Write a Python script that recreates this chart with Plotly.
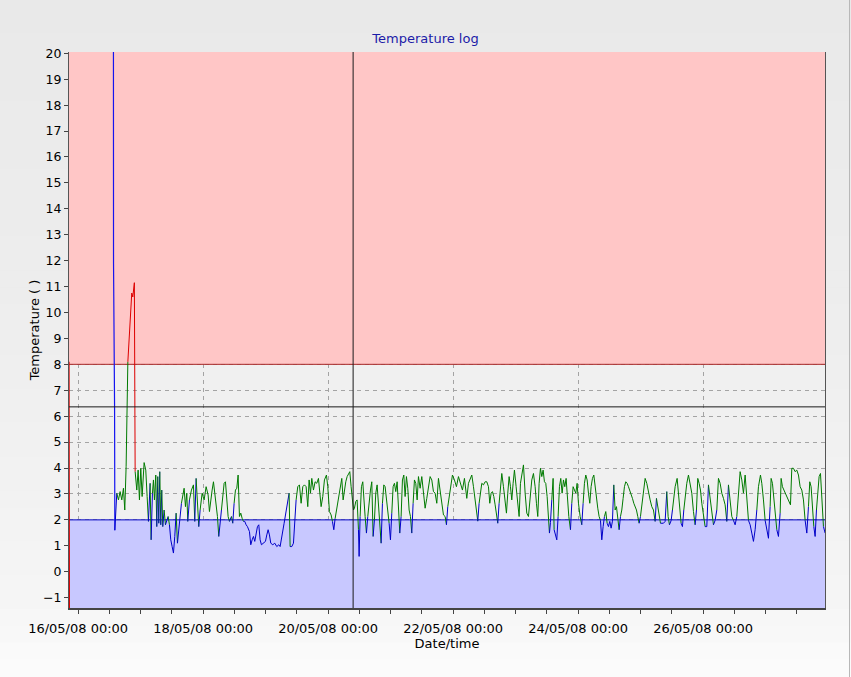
import plotly.graph_objects as go
from datetime import datetime, timedelta

# ---------------- data ----------------
base_time = datetime(2008, 5, 16, 0, 0)
range_start_hours = -3.5
range_end_hours = 286.8
temp_min, temp_max = -1.4, 20.05

alarm_high = 8
alarm_low = 2
cursor_hours = 105.6
cursor_temp = 6.36

startup_hours = [-3.45, -3.3, -3.28]
startup_temps = [8.1, 4.0, -3.0]

spike_hours = [13.55, 13.6, 14.0, 14.1]
spike_temps = [24.0, 11.9, 6.4, 1.6]

log_hours = [
    14.1, 14.85, 15.49, 16.13, 16.77, 17.41, 17.92, 18.43, 18.9, 19.1, 19.5, 20.1, 20.6, 21.0, 21.6, 21.9,
    22.53, 23.04, 23.55, 24.06, 24.58, 25.34, 25.98, 26.50, 27.01, 27.65, 28.03, 28.54, 28.93, 29.31,
    29.82, 30.21, 30.59, 30.98, 31.36, 31.74, 32.13, 32.51, 33.02, 33.54, 34.05, 34.56, 35.07, 35.58,
    36.10, 36.61, 37.12, 37.63, 38.14, 38.66, 39.17, 39.68, 40.19, 40.70, 41.22, 41.73, 42.11, 42.75,
    43.52, 44.29, 44.80, 45.31, 45.82, 46.34, 46.85, 47.62, 48.38, 49.15, 49.92, 50.43, 51.46, 51.97,
    52.48, 52.99, 53.50, 54.02, 54.53, 55.04, 55.55, 56.06, 56.58, 57.09, 57.60, 58.11, 58.88, 59.39,
    59.90, 60.42, 60.93, 61.44, 61.95, 62.46, 62.98, 63.49, 64.00, 64.51, 65.02, 65.79, 66.30, 66.82,
    67.33, 67.84, 68.35, 68.86, 69.38, 69.89, 70.40, 71.17, 71.94, 72.45, 72.96, 73.47, 73.98, 74.75,
    75.52, 76.29, 77.06, 77.57, 78.08, 78.59, 79.10,
    81.02, 81.41, 82.05, 82.69, 83.33, 83.71, 84.35, 84.99, 85.63, 86.27, 86.91, 87.55, 88.19, 88.70,
    89.22, 89.73, 90.37, 91.01, 91.65, 92.29, 92.80, 93.31, 93.95, 94.59, 95.36, 95.87, 96.51, 97.15,
    97.66, 98.18, 98.69, 99.20, 99.71, 100.22, 100.74, 101.25, 101.76, 102.27, 102.78, 103.30, 103.81,
    104.32, 104.83, 105.34, 105.73, 106.11, 106.62, 107.14, 107.65, 107.90, 108.29, 108.80, 109.31,
    109.70, 110.21, 110.72, 111.23, 111.74, 112.26, 112.77, 113.28, 113.79, 114.30, 114.82, 115.33,
    115.84, 116.35, 116.86, 117.38, 117.89, 118.40, 118.91, 119.42, 119.94, 120.45, 120.96, 121.47,
    121.98, 122.50, 123.01, 123.52, 124.03, 124.54, 125.06, 125.57, 126.08, 126.59, 127.10, 127.62,
    128.13, 128.64, 129.15, 129.66, 130.18, 130.69, 131.33, 131.97, 132.61, 133.25, 133.89, 134.53,
    135.17, 135.81, 136.45, 137.09, 137.73, 138.37, 139.01, 139.65, 140.29, 140.93, 141.44, 141.95,
    142.46, 142.98, 143.74, 144.51, 145.28, 146.05, 146.82, 147.58, 148.35,
    148.61, 149.25, 149.89, 150.53, 151.17, 151.81, 152.45, 153.09, 153.47, 153.98, 154.50, 155.01,
    155.65, 156.29, 156.93, 157.57, 158.08, 158.59, 159.10, 159.62, 160.13, 160.64, 161.15, 161.66,
    162.18, 162.69, 163.33, 163.97, 164.48, 164.99, 165.50, 166.02, 166.53, 167.04, 167.55, 168.19,
    168.83, 169.34, 169.86, 170.37, 171.01, 171.65, 172.29, 172.93, 173.57, 174.21, 174.85, 175.49,
    176.00, 176.51, 177.02, 177.54, 178.05, 178.56, 179.07, 179.58, 180.10, 180.61, 180.99, 181.38,
    181.89, 182.40, 182.78, 183.30, 183.81, 184.32, 184.83, 185.34, 185.86, 186.37, 186.88, 187.39,
    187.90, 188.42, 189.06, 189.57, 190.08, 190.59, 191.10, 191.62, 192.13, 192.77, 193.41, 193.92,
    194.43, 194.94, 195.46, 195.97, 196.48, 196.99, 197.50, 198.02, 198.53, 199.04, 199.55, 200.06,
    200.58, 201.09, 201.60, 202.11, 202.62, 203.14, 203.65, 204.16, 204.67, 205.18, 205.70, 206.21,
    206.72, 207.23, 207.74, 208.26, 208.77, 209.28, 209.79, 210.30, 210.82, 211.33, 211.84, 212.35,
    212.86, 213.38, 213.89, 214.40, 214.91, 215.42, 215.94, 216.45, 216.96, 217.47,
    217.73, 218.37, 219.01, 219.65, 220.29, 220.93, 221.57, 222.08, 222.59, 223.10, 223.62, 224.13,
    224.77, 225.41, 226.05, 226.56, 227.07, 227.71, 228.22, 228.74, 229.25, 230.02, 230.53, 231.17,
    231.55, 232.06, 232.58, 233.09, 233.73, 234.37, 235.01, 235.65, 236.29, 236.93, 237.44, 237.95,
    238.46, 238.98, 239.49, 240.13, 240.77, 241.41, 242.05, 242.69, 243.33, 243.97, 244.61, 245.25,
    245.89, 246.53, 247.17, 247.81, 248.45, 249.09, 249.73, 250.37, 251.01, 251.65, 252.29, 252.93,
    253.57, 254.21, 254.85, 255.49, 256.13, 256.77, 257.41, 258.05, 258.69, 259.33, 259.97, 260.61,
    261.25, 262.02, 262.53, 263.17, 263.81, 264.45, 265.09, 265.73, 266.11, 266.62, 267.14, 267.65,
    268.29, 268.93, 269.57, 269.95, 270.46, 270.98, 271.49, 272.13, 272.77, 273.54, 274.05, 274.69,
    275.33, 275.97, 276.61, 277.25, 277.89, 278.53, 279.17, 279.81, 280.45, 280.96, 281.47, 281.98,
    282.50, 283.01, 283.52, 284.03, 284.54, 285.06, 285.57, 286.21, 286.85,
]

log_temps = [
    1.6, 3.03, 2.77, 3.09, 2.77, 3.22, 2.38, 4.05, 6.8, 8.1, 8.8, 10.0, 10.75, 10.6, 11.15, 3.86,
    3.15, 3.92, 2.77, 3.99, 2.90, 4.21, 3.92, 2.90, 1.94, 3.41, 1.23, 3.03, 3.54, 2.77,
    3.73, 1.74, 3.67, 1.87, 3.86, 1.81, 3.15, 1.74, 2.38, 1.81, 1.94, 2.13, 1.81, 1.23,
    0.97, 0.72, 1.36, 2.26, 1.10, 1.62, 1.87, 2.64, 3.03, 3.22, 2.51, 3.03, 1.94, 2.77,
    3.15, 3.35, 1.94, 3.60, 2.64, 1.74, 2.38, 3.03, 2.77, 3.28, 2.96, 2.32, 3.15, 3.47,
    3.03, 2.58, 2.13, 1.36, 1.87, 2.38, 3.03, 3.41, 3.47, 2.64, 2.13, 1.94, 2.13, 1.87,
    2.64, 3.15, 3.22, 3.73, 2.13, 2.26, 2.06, 1.94, 1.94, 1.81, 1.74, 1.55, 1.04, 1.23,
    1.36, 1.17, 1.49, 1.74, 1.81, 1.23, 1.04, 1.10, 1.17, 1.42, 1.62, 1.42, 1.10, 1.04,
    1.10, 0.97, 1.04, 0.97, 1.23, 1.49, 1.87,
    3.03, 0.97, 0.97, 1.10, 1.94, 2.77, 3.28, 3.35, 2.64, 3.28, 3.35, 3.28, 2.51, 3.54,
    3.03, 3.60, 3.15, 3.47, 3.41, 3.60, 3.15, 2.51, 2.90, 3.54, 3.73, 3.28, 2.32, 2.19,
    1.94, 1.62, 2.05, 2.38, 2.64, 3.03, 3.41, 3.60, 2.77, 3.15, 3.47, 3.67, 3.79,
    3.86, 3.28, 2.77, 2.38, 2.45, 2.71, 2.77, 1.62, 0.59, 2.13, 3.28, 3.47,
    2.77, 2.13, 1.49, 2.13, 2.77, 3.15, 3.47, 1.36, 2.00, 3.03, 3.35, 2.64,
    2.13, 1.10, 2.64, 3.35, 3.28, 2.77, 2.19, 1.87, 1.23, 2.26, 3.28, 3.41,
    3.09, 3.47, 2.51, 1.49, 2.13, 3.54, 3.73, 2.90, 3.67, 3.22, 2.38, 2.13,
    1.49, 2.64, 3.54, 3.41, 2.77, 3.67, 3.22, 3.67, 3.09, 2.45, 2.83, 3.28,
    3.67, 3.54, 3.09, 3.03, 2.64, 3.60, 3.15, 2.64, 2.19, 2.13, 1.81, 2.51,
    2.83, 3.28, 3.73, 3.54, 3.28, 3.67, 3.41, 3.15, 3.60,
    3.28, 2.83, 3.41, 3.54, 3.73, 3.28, 2.77, 2.26, 1.95, 2.64, 3.15, 3.41,
    3.35, 3.47, 3.47, 3.28, 2.64, 3.03, 3.09, 2.90, 2.58, 2.26, 1.87, 2.64,
    3.28, 3.79, 3.28, 2.64, 2.26, 3.03, 3.67, 3.28, 2.77, 3.41, 3.92, 3.28,
    2.51, 2.13, 3.41, 3.79, 4.12, 3.03, 2.26, 2.13, 3.03, 3.54, 3.79, 3.28,
    2.64, 2.13, 3.41, 3.99, 3.67, 3.92, 3.47, 3.41, 2.90, 2.13, 1.49, 1.90,
    2.77, 3.60, 1.62, 1.42, 1.23, 2.13, 3.28, 3.60, 3.03, 3.54, 3.28, 3.60,
    2.77, 2.13, 1.62, 2.64, 3.28, 3.15, 3.03, 3.41, 2.64, 2.13, 1.81, 2.64,
    3.41, 3.73, 3.54, 3.03, 2.64, 3.28, 3.60, 3.73, 3.28, 2.77, 2.45, 2.13,
    1.98, 1.23, 1.74, 2.13, 2.32, 1.87, 1.74, 1.94, 1.68, 1.95, 3.35, 2.38,
    2.51, 2.13, 1.62, 2.13, 2.38, 2.83, 3.28, 3.47, 3.41, 3.28, 3.15, 2.96,
    2.83, 2.64, 2.51, 2.38, 2.13, 1.87, 2.13, 2.51, 3.03, 3.41,
    3.60, 3.41, 3.03, 2.77, 2.51, 2.38, 1.94, 2.83, 2.45, 2.13, 1.87, 1.87,
    1.87, 1.94, 3.09, 2.13, 1.81, 1.97, 2.38, 2.90, 3.28, 3.60, 3.03, 2.38,
    1.87, 1.74, 2.38, 2.90, 3.41, 3.73, 3.28, 3.03, 2.32, 1.81, 2.38, 3.60,
    3.41, 3.15, 2.64, 2.13, 1.74, 1.74, 3.35, 2.77, 2.26, 1.81, 1.98, 2.38,
    3.60, 3.41, 3.03, 2.83, 2.58, 1.94, 3.35, 2.77, 2.13, 1.98, 1.81, 2.13,
    3.15, 3.86, 3.54, 3.03, 3.73, 2.77, 1.98, 1.81, 1.49, 1.17, 1.62, 2.38,
    3.28, 3.73, 3.41, 2.77, 1.98, 1.62, 1.29, 2.51, 3.60, 3.41, 2.90, 2.26,
    1.62, 1.36, 2.26, 3.60, 3.28, 3.15, 3.03, 2.90, 2.77, 2.58, 3.99, 3.99,
    3.86, 3.92, 3.73, 3.28, 3.15, 2.77, 1.98, 1.49, 2.51, 3.47, 3.28, 2.51,
    1.74, 1.36, 2.38, 3.28, 3.67, 3.79, 2.77, 1.74, 1.49,
]

# ---------------- styling ----------------
RED = "#dd0000"
GREEN = "#007a00"
BLUE = "#0000c8"
FONT = "DejaVu Sans"


def to_time(h):
    return base_time + timedelta(hours=h)


def seg_color(v):
    if v >= alarm_high:
        return RED
    if v >= alarm_low:
        return GREEN
    return BLUE


fig = go.Figure()

fig.add_trace(go.Scatter(x=[to_time(h) for h in startup_hours], y=startup_temps,
                         mode="lines", line=dict(color=RED, width=1), hoverinfo="skip"))
fig.add_trace(go.Scatter(x=[to_time(h) for h in spike_hours], y=spike_temps,
                         mode="lines", line=dict(color="#1414f0", width=1.2), hoverinfo="skip"))

n = min(len(log_hours), len(log_temps))
colors = [seg_color(log_temps[k]) for k in range(n - 1)]
a = 0
while a < n - 1:
    b = a
    while b + 1 < n - 1 and colors[b + 1] == colors[a]:
        b += 1
    idx = range(a, b + 2)
    fig.add_trace(go.Scatter(x=[to_time(log_hours[i]) for i in idx],
                             y=[log_temps[i] for i in idx],
                             mode="lines", line=dict(color=colors[a], width=1),
                             hoverinfo="skip"))
    a = b + 1

# ---------------- layout ----------------
W, H = 851, 677
L, R, T, B = 69, 26, 52, 69
pw, ph = W - L - R, H - T - B
x_lo, x_hi = to_time(range_start_hours), to_time(range_end_hours)


def px_x(p):
    return (p - L) / pw


def px_y(p):
    return (H - B - p) / ph


def grey_at(p):
    pts = [(0, 233), (330, 238), (600, 245), (677, 252)]
    for (p0, g0), (p1, g1) in zip(pts[:-1], pts[1:]):
        if p0 <= p <= p1:
            return g0 + (g1 - g0) * (p - p0) / (p1 - p0)
    return pts[-1][1]


shapes = []
steps = 40
for i in range(steps):
    p0 = H * i / steps
    p1 = H * (i + 1) / steps
    g = int(round(grey_at((p0 + p1) / 2)))
    shapes.append(dict(type="rect", xref="paper", yref="paper", layer="below",
                       x0=px_x(0), x1=px_x(W), y0=px_y(p1), y1=px_y(p0) + 0.001,
                       line=dict(width=0), fillcolor=f"rgb({g},{g},{g})"))
# plot area background
shapes.append(dict(type="rect", xref="paper", yref="paper", layer="below",
                   x0=0, x1=1, y0=0, y1=1, line=dict(width=0), fillcolor="#f0f0f0"))
# alarm bands (between gridlines and traces)
shapes.append(dict(type="rect", xref="x", yref="y", layer="between",
                   x0=x_lo, x1=x_hi, y0=alarm_high, y1=temp_max, line=dict(width=0),
                   fillcolor="#ffc6c6"))
shapes.append(dict(type="rect", xref="x", yref="y", layer="between",
                   x0=x_lo, x1=x_hi, y0=temp_min, y1=alarm_low, line=dict(width=0),
                   fillcolor="#c8c8ff"))
shapes.append(dict(type="line", xref="x", yref="y", layer="between",
                   x0=x_lo, x1=x_hi, y0=alarm_high, y1=alarm_high,
                   line=dict(color="#a82828", width=1)))
shapes.append(dict(type="line", xref="x", yref="y", layer="between",
                   x0=x_lo, x1=x_hi, y0=alarm_low, y1=alarm_low,
                   line=dict(color="#0000c0", width=1)))
# cursor crosshair
shapes.append(dict(type="line", xref="x", yref="y", layer="above",
                   x0=to_time(cursor_hours), x1=to_time(cursor_hours), y0=temp_min, y1=temp_max,
                   line=dict(color="#1a1a1a", width=1)))
shapes.append(dict(type="line", xref="x", yref="y", layer="above",
                   x0=x_lo, x1=x_hi, y0=cursor_temp, y1=cursor_temp,
                   line=dict(color="#1a1a1a", width=1)))
# right border of the picture
shapes.append(dict(type="line", xref="paper", yref="paper", layer="below",
                   x0=px_x(849.5), x1=px_x(849.5), y0=px_y(H), y1=px_y(0),
                   line=dict(color="#b8b8b8", width=1)))

fig.update_layout(
    width=W, height=H,
    margin=dict(l=L, r=R, t=T, b=B, autoexpand=False),
    paper_bgcolor="#ececec",
    plot_bgcolor="rgba(0,0,0,0)",
    showlegend=False,
    font=dict(family=FONT, size=12, color="#000000"),
    title=dict(text="Temperature log", x=0.5, xref="container", xanchor="center",
               y=1 - 38 / H, yref="container", yanchor="middle",
               font=dict(family=FONT, size=13, color="#1c1ca8")),
    shapes=shapes,
)

fig.update_xaxes(
    type="date",
    range=[x_lo, x_hi],
    tick0=base_time, dtick=2 * 86400000,
    tickformat="%d/%m/%y %H:%M",
    tickfont=dict(size=13),
    ticklabelstandoff=3,
    ticks="outside", ticklen=4, tickcolor="#444444",
    showgrid=True, gridcolor="#a4a4a4", griddash="4px,4px", gridwidth=1,
    showline=True, linecolor="#444444", linewidth=2,
    zeroline=False,
    minor=dict(dtick=12 * 3600000, ticks="outside", ticklen=4,
               tickcolor="#444444", showgrid=False),
    title=dict(text="Date/time", standoff=2, font=dict(size=13)),
    automargin=False,
)
fig.update_yaxes(
    range=[temp_min, temp_max], tick0=0, dtick=1,
    tickfont=dict(size=12.5),
    ticks="outside", ticklen=4, tickcolor="#444444",
    showgrid=True, gridcolor="#a4a4a4", griddash="4px,4px", gridwidth=1,
    showline=True, linecolor="#555555", linewidth=1, mirror=True,
    zeroline=False,
    title=dict(text="Temperature ( )", standoff=0, font=dict(size=13)),
    automargin=False,
)

fig.write_html("out.html", config={"displayModeBar": False},
               post_script="document.body.style.margin='0';")
